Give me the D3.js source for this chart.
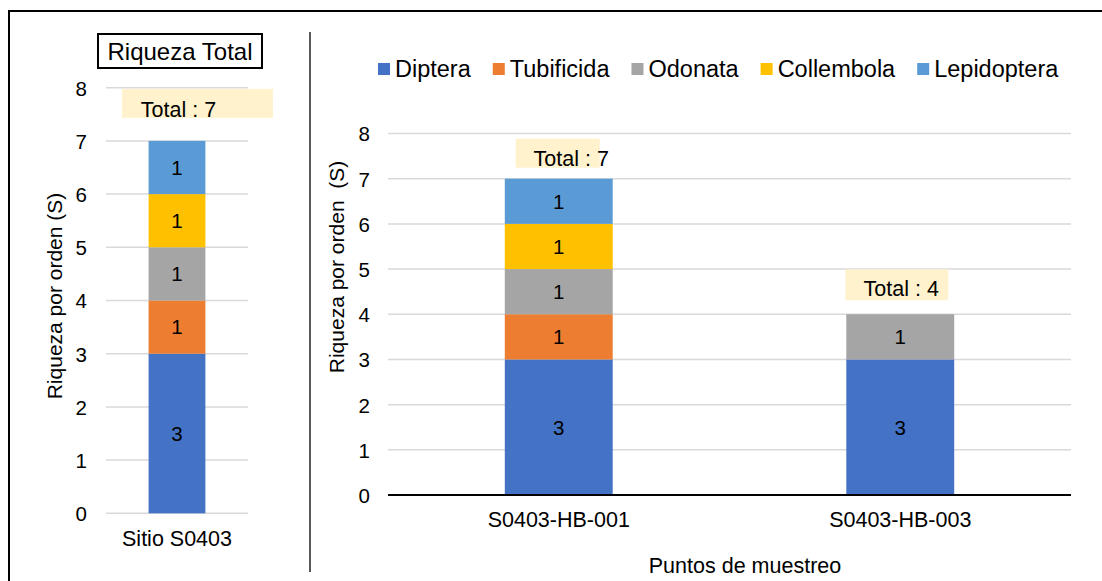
<!DOCTYPE html>
<html>
<head>
<meta charset="utf-8">
<script src="https://cdn.jsdelivr.net/npm/d3@7"></script>
<style>
  html, body { margin: 0; padding: 0; background: #fff; }
  svg { display: block; font-family: "Liberation Sans", Arial, sans-serif; }
</style>
</head>
<body>
<svg id="chart" width="1102" height="581"></svg>
<script>
// Orders (series) and their colours
const orders = ["Diptera", "Tubificida", "Odonata", "Collembola", "Lepidoptera"];
const orderColors = ["#4472C4", "#ED7D31", "#A5A5A5", "#FFC000", "#5B9BD5"];

// Site total richness by order
const siteCategories = ["Sitio S0403"];
const siteRichness = [3, 1, 1, 1, 1];

// Richness by order for each sampling point
const samplingPoints = ["S0403-HB-001", "S0403-HB-003"];
const diptera     = [3, 3];
const tubificida  = [1, 0];
const odonata     = [1, 1];
const collembola  = [1, 0];
const lepidoptera = [1, 0];

const yTicks = [0, 1, 2, 3, 4, 5, 6, 7, 8];

const svg = d3.select("#chart");
const FONT = "Liberation Sans, Arial, sans-serif";

// Frame and divider
svg.append("path").attr("d", "M9,581 V11 H1102").attr("fill", "none")
  .attr("stroke", "#000").attr("stroke-width", 2);
svg.append("line").attr("x1", 310).attr("x2", 310).attr("y1", 32).attr("y2", 572)
  .attr("stroke", "#222").attr("stroke-width", 1.5);

// Generic stacked panel
function drawPanel(cfg) {
  const g = svg.append("g");
  const x = d3.scaleBand().domain(cfg.categories).range(cfg.xRange)
    .paddingInner(cfg.pad).paddingOuter(cfg.pad / 2);
  const y = d3.scaleLinear().domain([0, 8]).range(cfg.yRange);

  // gridlines
  g.append("g").selectAll("line").data(yTicks.filter(t => cfg.grayZero || t > 0)).join("line")
    .attr("x1", cfg.xRange[0]).attr("x2", cfg.xRange[1])
    .attr("y1", d => y(d)).attr("y2", d => y(d))
    .attr("stroke", "#D9D9D9").attr("stroke-width", 1.5);

  // y axis tick labels
  const yAxis = d3.axisLeft(y).tickValues(yTicks).tickSize(0).tickPadding(0);
  const ya = g.append("g").attr("transform", `translate(${cfg.tickX},0)`).call(yAxis);
  ya.select(".domain").remove();
  ya.selectAll("text").attr("font-size", 20.5).attr("font-family", FONT).attr("fill", "#000")
    .attr("dy", "0.36em");

  // stacked bars
  const rows = cfg.categories.map((c, i) => {
    const r = { cat: c };
    orders.forEach((o, k) => r[o] = cfg.values[k][i]);
    return r;
  });
  const stack = d3.stack().keys(orders)(rows);
  stack.forEach((layer, k) => {
    const lg = g.append("g").attr("fill", orderColors[k]);
    layer.forEach((seg, i) => {
      if (seg[1] - seg[0] <= 0) return;
      lg.append("rect")
        .attr("x", x(rows[i].cat)).attr("width", x.bandwidth())
        .attr("y", y(seg[1])).attr("height", y(seg[0]) - y(seg[1]));
      g.append("text")
        .attr("x", x(rows[i].cat) + x.bandwidth() / 2)
        .attr("y", (y(seg[0]) + y(seg[1])) / 2)
        .attr("dy", "0.36em").attr("text-anchor", "middle")
        .attr("font-size", 20.5).attr("fill", "#000")
        .text(seg[1] - seg[0]);
    });
  });

  // zero axis line
  if (!cfg.grayZero) {
    g.append("line").attr("x1", cfg.xRange[0]).attr("x2", cfg.xRange[1])
      .attr("y1", y(0)).attr("y2", y(0)).attr("stroke", "#000").attr("stroke-width", 2);
  }

  // category labels
  const xAxis = d3.axisBottom(x).tickSize(0).tickPadding(0);
  const xa = g.append("g").attr("transform", `translate(0,${cfg.catY})`).call(xAxis);
  xa.select(".domain").remove();
  xa.selectAll("text").attr("font-size", 21.5).attr("font-family", FONT).attr("fill", "#000")
    .attr("dy", 0);

  // total labels
  rows.forEach((r, i) => {
    const total = d3.sum(orders, o => r[o]);
    const b = cfg.totalBoxes[i];
    const cx = x(r.cat) + x.bandwidth() / 2;
    const top = y(total);
    g.append("rect").attr("x", cx + b.dx).attr("width", b.w)
      .attr("y", top - b.up).attr("height", b.h).attr("fill", "#FFF2CC");
    g.append("text").attr("x", cx + b.tx).attr("y", top - b.base)
      .attr("text-anchor", "middle").attr("font-size", 21.5).attr("fill", "#000")
      .text("Total : " + total);
  });

  // y axis title
  g.append("text")
    .attr("transform", `translate(${cfg.titleX},${cfg.titleY}) rotate(-90)`)
    .attr("text-anchor", "middle").attr("dy", "0.35em")
    .attr("font-size", 21).attr("fill", "#000").attr("xml:space", "preserve")
    .text(cfg.yTitle);
  return { x, y };
}

// Left panel: site total
drawPanel({
  categories: siteCategories,
  values: siteRichness.map(v => [v]),
  xRange: [106, 248], pad: 0.6,
  yRange: [513.3, 87.7],
  tickX: 87, grayZero: true, catY: 546,
  totalBoxes: [{ dx: -55, w: 151, up: 52, h: 29, tx: 1.5, base: 24 }],
  titleX: 55, titleY: 296,
  yTitle: "Riqueza por orden (S)"
});

// Right panel: sampling points
drawPanel({
  categories: samplingPoints,
  values: [diptera, tubificida, odonata, collembola, lepidoptera],
  xRange: [388, 1071], pad: 0.684,
  yRange: [495, 133.5],
  tickX: 370, grayZero: false, catY: 527,
  totalBoxes: [
    { dx: -43, w: 84, up: 40, h: 29, tx: 12.5, base: 13 },
    { dx: -55, w: 103, up: 45, h: 31, tx: 1, base: 18.5 }
  ],
  titleX: 337, titleY: 267,
  yTitle: "Riqueza por orden  (S)"
});

// Left panel title box
svg.append("rect").attr("x", 98).attr("y", 34).attr("width", 164).attr("height", 34)
  .attr("fill", "#fff").attr("stroke", "#000").attr("stroke-width", 2);
svg.append("text").attr("x", 180).attr("y", 60).attr("text-anchor", "middle")
  .attr("font-size", 24).attr("fill", "#000").text("Riqueza Total");

// X axis title
svg.append("text").attr("x", 745).attr("y", 573).attr("text-anchor", "middle")
  .attr("font-size", 21.5).attr("fill", "#000").text("Puntos de muestreo");

// Legend
const legend = svg.append("g");
let lx = 378;
orders.forEach((o, k) => {
  legend.append("rect").attr("x", lx).attr("y", 63).attr("width", 12).attr("height", 12)
    .attr("fill", orderColors[k]);
  const t = legend.append("text").attr("x", lx + 17).attr("y", 76.5)
    .attr("font-size", 23.5).attr("fill", "#000").text(o);
  lx += 17 + t.node().getComputedTextLength() + 22;
});
</script>
</body>
</html>
